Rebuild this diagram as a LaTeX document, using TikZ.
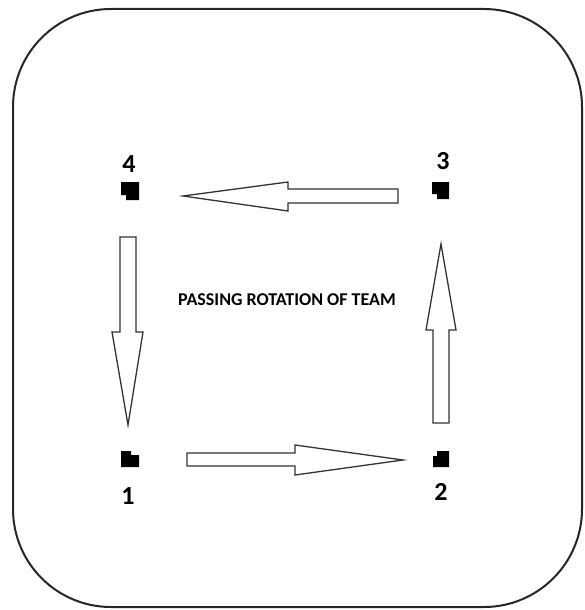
\documentclass[tikz,border=0pt]{standalone}
\usepackage{fontspec}
\setmainfont{Carlito}
\begin{document}
\begin{tikzpicture}[x=1pt,y=-1pt,
  frame/.style={draw=black!85,line width=2pt,rounded corners=98pt},
  blockarrow/.style={draw=black!80,line width=1.3pt,fill=white,line join=miter},
  marker/.style={fill=black},
  numlabel/.style={font=\bfseries\fontsize{26}{26}\selectfont,inner sep=0pt},
  title/.style={font=\bfseries\fontsize{18}{18}\selectfont,inner sep=0pt}]
\useasboundingbox (0,0) rectangle (584,610);
\draw[frame] (13,9) rectangle (582,607);
% labels
\node[numlabel] (l4) at (129,164) {4};
\node[numlabel] (l3) at (443,161) {3};
\node[numlabel] (l1) at (128,496) {1};
\node[numlabel] (l2) at (441,492) {2};
\node[title] (t) at (287,300) {PASSING ROTATION OF TEAM};
% markers
\fill[marker] (121,182) -- (139,182) -- (139,200) -- (126,200) -- (126,195) -- (121,195) -- cycle;
\fill[marker] (432,182) -- (449,182) -- (449,199) -- (437,199) -- (437,194) -- (432,194) -- cycle;
\fill[marker] (121,451) -- (131,451) -- (131,455) -- (139,455) -- (139,467) -- (121,467) -- cycle;
\fill[marker] (437,451) -- (449,451) -- (449,467) -- (433,467) -- (433,456) -- (437,456) -- cycle;
% arrows
\draw[blockarrow] (398,189) -- (288,189) -- (288,182) -- (183,196) -- (288,211) -- (288,203) -- (398,203) -- cycle;
\draw[blockarrow] (120,237) -- (136,237) -- (136,332) -- (143,332) -- (128,425) -- (112,332) -- (120,332) -- cycle;
\draw[blockarrow] (433,423) -- (449,423) -- (449,330) -- (456,330) -- (441,244) -- (426,330) -- (433,330) -- cycle;
\draw[blockarrow] (187,453) -- (295,453) -- (295,445) -- (403,460) -- (295,475) -- (295,466) -- (187,466) -- cycle;
\end{tikzpicture}
\end{document}
